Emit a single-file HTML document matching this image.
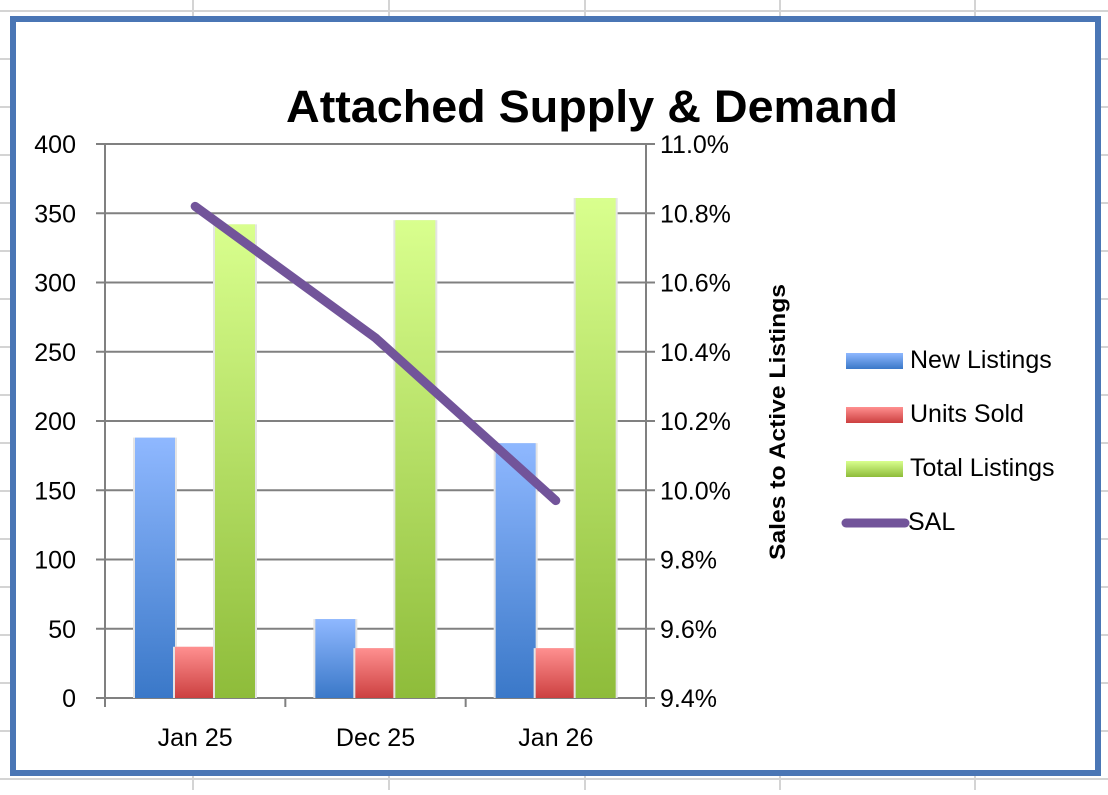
<!DOCTYPE html>
<html><head><meta charset="utf-8"><style>
html,body{margin:0;padding:0;background:#fff;}
body{width:1108px;height:790px;overflow:hidden;font-family:"Liberation Sans",sans-serif;}
</style></head><body>
<svg width="1108" height="790" viewBox="0 0 1108 790" xmlns="http://www.w3.org/2000/svg">
<defs>
<linearGradient id="gb" x1="0" y1="0" x2="0" y2="1"><stop offset="0" stop-color="#8fb8ff"/><stop offset="1" stop-color="#3a78c8"/></linearGradient>
<linearGradient id="gr" x1="0" y1="0" x2="0" y2="1"><stop offset="0" stop-color="#ff9090"/><stop offset="1" stop-color="#cc4040"/></linearGradient>
<linearGradient id="gg" x1="0" y1="0" x2="0" y2="1"><stop offset="0" stop-color="#d9ff8e"/><stop offset="1" stop-color="#8ebc3a"/></linearGradient>
</defs>
<g id="sheet" stroke="#d4d4d4" stroke-width="2"></g>
<rect x="13" y="19" width="1085" height="754" fill="#fff" stroke="#4a76b5" stroke-width="6"/>
<text x="592" y="122" text-anchor="middle" font-size="45" font-weight="bold" fill="#000" textLength="612" lengthAdjust="spacingAndGlyphs">Attached Supply &amp; Demand</text>
<g id="grid"></g>
<g id="bars"></g>
<g id="line"></g>
<g id="axes"></g>
<text transform="translate(785,422) rotate(-90)" text-anchor="middle" font-size="22" font-weight="bold" textLength="276" lengthAdjust="spacingAndGlyphs">Sales to Active Listings</text>
<g font-size="25">
<g><rect x="846" y="353" width="57" height="16" fill="url(#gb)"/><text x="910" y="368">New Listings</text></g>
<g><rect x="846" y="407" width="57" height="16" fill="url(#gr)"/><text x="910" y="422">Units Sold</text></g>
<g><rect x="846" y="461" width="57" height="16" fill="url(#gg)"/><text x="910" y="476">Total Listings</text></g>
<g><line x1="846" y1="523" x2="905" y2="523" stroke="#72549a" stroke-width="9" stroke-linecap="round"/><text x="908" y="530">SAL</text></g>
</g>
</svg>
<script>
const categories=["Jan 25","Dec 25","Jan 26"];
const newListings=[188,57,184];
const unitsSold=[37,36,36];
const totalListings=[342,345,361];
const salValues=[10.82,10.44,9.97];
const leftTicks=[0,50,100,150,200,250,300,350,400];
const rightTicks=[9.4,9.6,9.8,10.0,10.2,10.4,10.6,10.8,11.0];

const NS="http://www.w3.org/2000/svg";
const X0=105,X1=646,Y0=698,Y1=144;
const yL=v=>Y0-(v/400)*(Y0-Y1);
const yR=v=>Y0-((v-9.4)/1.6)*(Y0-Y1);
const bw=(X1-X0)/categories.length;
function mk(tag,attrs,parent,text){const e=document.createElementNS(NS,tag);for(const k in attrs)e.setAttribute(k,attrs[k]);if(text!==undefined)e.textContent=text;parent.appendChild(e);return e;}

const sheet=document.getElementById('sheet');
[193,389,585,780,975].forEach(x=>{mk('line',{x1:x,y1:0,x2:x,y2:790},sheet);});
[11,59,107,155,203,251,299,347,395,443,491,539,587,635,683,731,779].forEach(y=>{mk('line',{x1:0,y1:y,x2:1108,y2:y},sheet);});

const grid=document.getElementById('grid');
const axes=document.getElementById('axes');
leftTicks.forEach(t=>{
  const y=yL(t);
  const l=mk('line',{x1:96,y1:y,x2:X1,y2:y,stroke:'#808080','stroke-width':2},grid);
  
  
  const tx=mk('text',{x:76,y:y+9,'text-anchor':'end','font-size':25},axes,String(t));
  
  
});
rightTicks.forEach(t=>{
  const y=yR(t);
  mk('line',{x1:X1,y1:y,x2:X1+9,y2:y,stroke:'#808080','stroke-width':2},axes);
  const tx=mk('text',{x:660,y:y+9,'font-size':25},axes,t.toFixed(1)+'%');
  
  
});
mk('line',{x1:X0,y1:Y1,x2:X0,y2:Y0+9,stroke:'#808080','stroke-width':2},axes);
mk('line',{x1:X1,y1:Y1,x2:X1,y2:Y0+9,stroke:'#808080','stroke-width':2},axes);
for(let i=0;i<=categories.length;i++){const x=X0+i*bw;mk('line',{x1:x,y1:Y0,x2:x,y2:Y0+9,stroke:'#808080','stroke-width':2},axes);}
categories.forEach((c,i)=>{
  const tx=mk('text',{x:X0+bw*(i+0.5),y:746,'text-anchor':'middle','font-size':25},axes,c);
  
  
});

const bars=document.getElementById('bars');
const series=[[newListings,'url(#gb)','new-listings'],[unitsSold,'url(#gr)','units-sold'],[totalListings,'url(#gg)','total-listings']];
categories.forEach((c,i)=>{
  series.forEach((s,j)=>{
    const x=X0+bw*i+30+j*40;
    const y=yL(s[0][i]);
    mk('rect',{x:x-2,y:y,width:44,height:Y0-y,fill:'#e4e4e4'},bars);
    const r=mk('rect',{x:x,y:y,width:40,height:Y0-y,fill:s[1]},bars);
    
    
  });
});
const line=document.getElementById('line');
const pts=salValues.map((v,i)=>(X0+bw*(i+0.5))+','+yR(v)).join(' ');
const pl=mk('polyline',{points:pts,fill:'none',stroke:'#72549a','stroke-width':9,'stroke-linecap':'round','stroke-linejoin':'round'},line);


</script>
</body></html>
